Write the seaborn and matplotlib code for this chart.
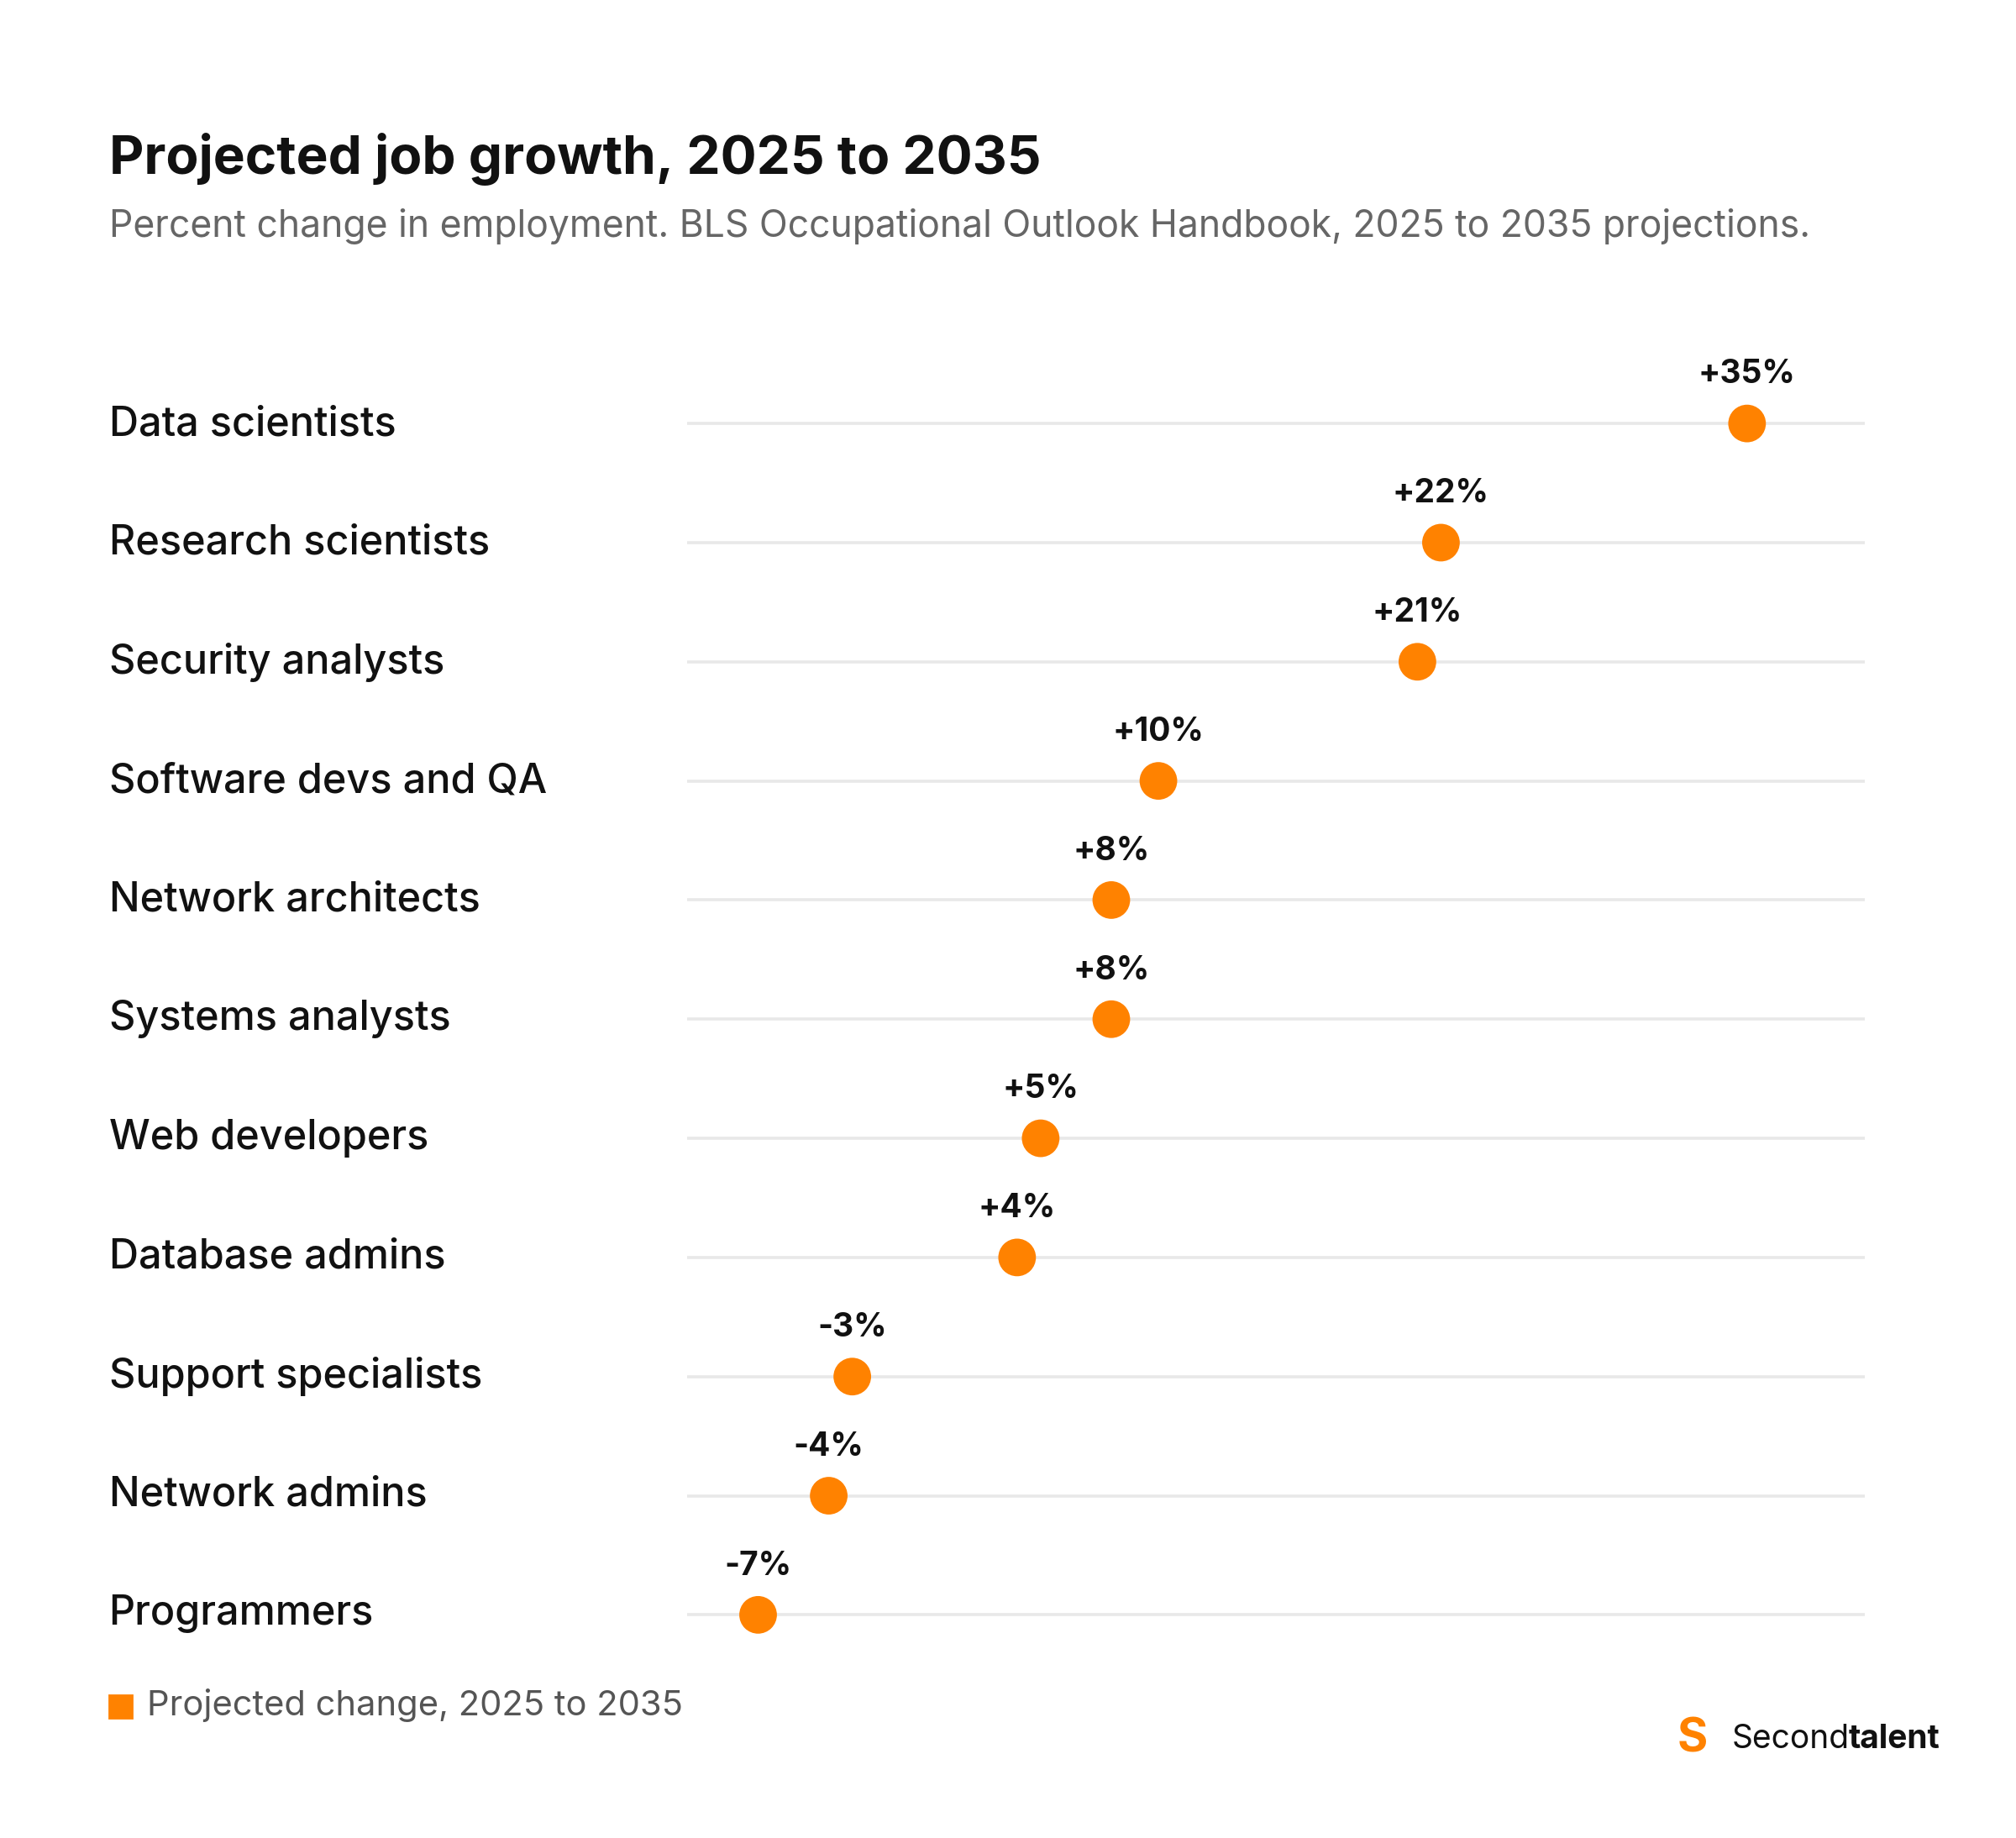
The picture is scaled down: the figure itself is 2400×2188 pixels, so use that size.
import matplotlib
matplotlib.use("Agg")
import matplotlib.pyplot as plt
import seaborn as sns
import pandas as pd

occupations = ["Data scientists", "Research scientists", "Security analysts", "Software devs and QA",
               "Network architects", "Systems analysts", "Web developers", "Database admins",
               "Support specialists", "Network admins", "Programmers"]
changes = [35, 22, 21, 10, 8, 8, 5, 4, -3, -4, -7]
value_labels = ["+35%", "+22%", "+21%", "+10%", "+8%", "+8%", "+5%", "+4%", "-3%", "-4%", "-7%"]

sns.set_theme(style="white")
plt.rcParams['font.family'] = ['Inter', 'DejaVu Sans']
ORANGE = "#FF8200"

df = pd.DataFrame({"occ": occupations, "chg": changes})
df["pos"] = range(len(df))

fig = plt.figure(figsize=(12, 10.94), dpi=200)
ax = fig.add_axes([0.341, 0.089, 0.584, 0.713])
for i in df["pos"]:
    ax.axhline(i, color="#E8E8E8", lw=1.3, zorder=0)
sns.scatterplot(data=df, x="chg", y="pos", ax=ax, color=ORANGE, s=260, edgecolor="none", zorder=3, legend=False)
for p, v, lab in zip(df["pos"], df["chg"], value_labels):
    ax.text(v, p - 0.28, lab, ha="center", va="bottom", fontsize=14, fontweight="bold", color="#111111")
ax.set_xlim(-10, 40)
ax.set_ylim(len(df) - 0.5, -0.5)
ax.axis("off")

for p, occ in zip(df["pos"], occupations):
    y = 1 - (326 + p * 91.4) / 1412
    fig.text(0.054, y, occ, fontsize=17.5, fontweight="medium", va="center", ha="left", color="#111111")

fig.text(0.054, 1 - 122 / 1412, "Projected job growth, 2025 to 2035", fontsize=23, fontweight="bold",
         va="center", color="#111111")
fig.text(0.054, 1 - 174 / 1412, "Percent change in employment. BLS Occupational Outlook Handbook, 2025 to 2035 projections.",
         fontsize=16, va="center", color="#666666")

fig.patches.append(plt.Rectangle((0.054, 1 - 1320 / 1412), 0.0115, 0.0125, transform=fig.transFigure,
                                 color=ORANGE, figure=fig))
fig.text(0.073, 1 - 1310 / 1412, "Projected change, 2025 to 2035", fontsize=15, va="center", color="#555555")

fig.text(0.832, 1 - 1336 / 1412, "S", fontsize=20, fontweight="bold", color=ORANGE, va="center", ha="left")
fig.text(0.859, 1 - 1336 / 1412, "Second", fontsize=14, color="#111111", va="center", ha="left")
fig.text(0.917, 1 - 1336 / 1412, "talent", fontsize=14, fontweight="bold", color="#111111", va="center", ha="left")

fig.savefig("out.png", dpi=200, facecolor="white")
